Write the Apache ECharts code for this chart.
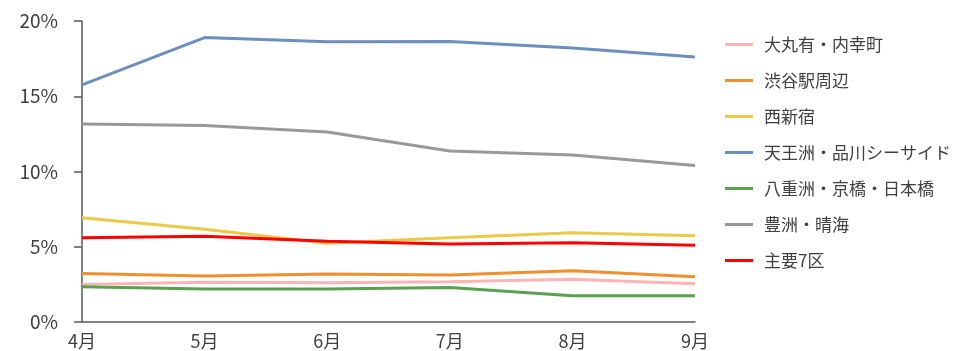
<!DOCTYPE html>
<html>
<head>
<meta charset="utf-8">
<script src="https://cdn.jsdelivr.net/npm/echarts@6/dist/echarts.min.js"></script>
<style>
html,body{margin:0;padding:0;background:#fff;}
#main{width:960px;height:351px;}
</style>
</head>
<body>
<div id="main"></div>
<script>
// 月
var months = ['4月', '5月', '6月', '7月', '8月', '9月'];

var names = ['大丸有・内幸町', '渋谷駅周辺', '西新宿', '天王洲・品川シーサイド', '八重洲・京橋・日本橋', '豊洲・晴海', '主要7区'];
var colors = ['#FFB3B3', '#F28E2B', '#EDC948', '#6D8FBF', '#59A14F', '#999999', '#FF0000'];

// 空室率 (%)
var marunouchi = [2.50, 2.64, 2.61, 2.68, 2.84, 2.54];
var shibuya = [3.23, 3.06, 3.19, 3.12, 3.41, 3.01];
var nishishinjuku = [6.93, 6.16, 5.23, 5.60, 5.93, 5.73];
var tennozu = [15.75, 18.90, 18.62, 18.63, 18.20, 17.60];
var yaesu = [2.35, 2.19, 2.19, 2.30, 1.75, 1.75];
var toyosu = [13.15, 13.05, 12.62, 11.36, 11.10, 10.40];
var shuyo7 = [5.60, 5.69, 5.36, 5.18, 5.27, 5.10];

var dataList = [marunouchi, shibuya, nishishinjuku, tennozu, yaesu, toyosu, shuyo7];

var font = '"Noto Sans CJK JP", sans-serif';
var series = [];
for (var i = 0; i < names.length; i++) {
    series.push({
        name: names[i],
        type: 'line',
        data: dataList[i],
        symbol: 'none',
        lineStyle: { width: 3, color: colors[i] },
        itemStyle: { color: colors[i] }
    });
}

var myChart = echarts.init(document.getElementById('main'));
myChart.setOption({
    animation: false,
    grid: { left: 82, right: 265, top: 21, bottom: 29 },
    legend: {
        orient: 'vertical',
        left: 720,
        top: 31,
        itemWidth: 28,
        itemHeight: 3,
        itemGap: 19,
        icon: 'rect',
        textStyle: { fontFamily: font, fontSize: 17, color: '#404040', padding: [0, 0, 0, 6] },
        data: names
    },
    xAxis: {
        type: 'category',
        boundaryGap: false,
        data: months,
        axisLine: { lineStyle: { color: '#595959', width: 1.5 } },
        axisTick: { show: false },
        axisLabel: { fontFamily: font, fontSize: 18, color: '#404040', margin: 10 }
    },
    yAxis: {
        type: 'value',
        min: 0,
        max: 20,
        interval: 5,
        splitLine: { show: false },
        axisLine: { show: true, lineStyle: { color: '#595959', width: 1.5 } },
        axisTick: { show: true, length: 8, lineStyle: { color: '#595959', width: 1.5 } },
        axisLabel: { fontFamily: font, fontSize: 19, color: '#404040', margin: 24, formatter: '{value}%' }
    },
    series: series
});
</script>
</body>
</html>
